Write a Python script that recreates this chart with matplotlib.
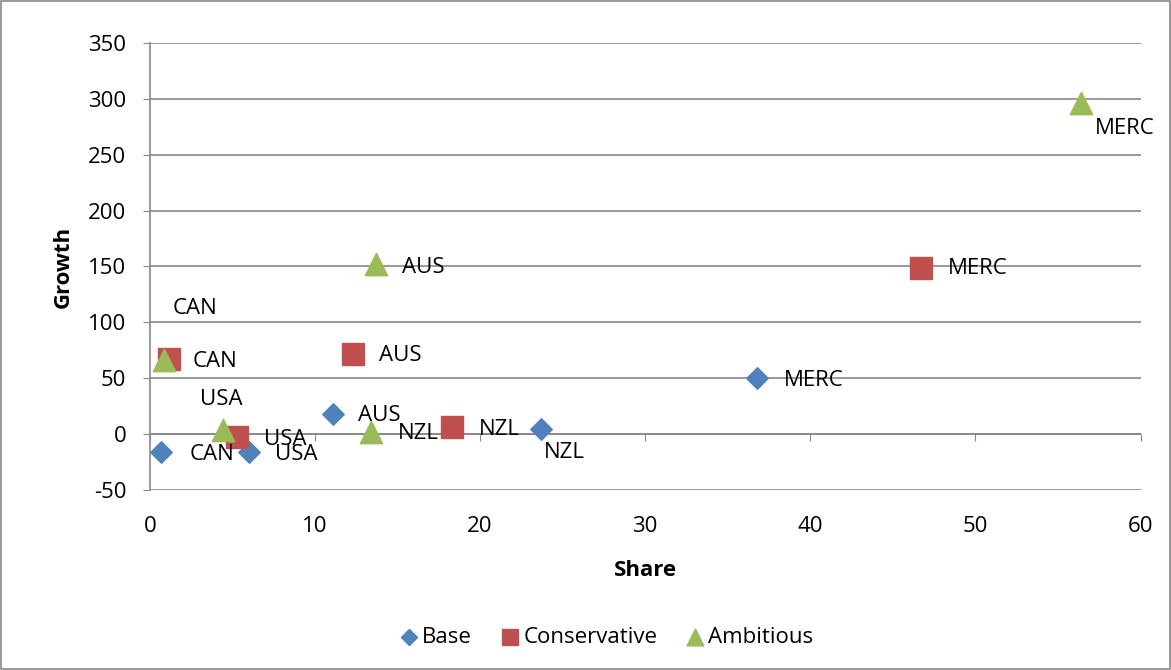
import matplotlib.pyplot as plt
from matplotlib.patches import Rectangle

plt.rcParams['font.family'] = ['Open Sans', 'DejaVu Sans']
plt.rcParams['axes.unicode_minus'] = False

countries = ['CAN', 'USA', 'AUS', 'NZL', 'MERC']

# share (x) and growth (y) for each scenario
base_share = [0.7, 6.0, 11.1, 23.7, 36.8]
base_growth = [-16, -16, 18, 5, 50]
cons_share = [1.15, 5.3, 12.3, 18.3, 46.7]
cons_growth = [67, -3, 72, 6, 149]
amb_share = [0.85, 4.4, 13.7, 13.4, 56.4]
amb_growth = [66, 4, 152, 2, 296]

# label offsets (points) as placed in the original chart
base_off = [(20, -2), (19, -2), (18, -1), (2, -17), (19, -1.5)]
cons_off = [(17, -1.5), (19, -1.5), (19, -1.5), (19, -1.5), (19.5, -1)]
amb_off = [(6.5, 37), (-16, 22), (19, -2), (19, -1), (10, -18)]

FS = 16

fig = plt.figure(figsize=(11.71, 6.70), dpi=100)
ax = fig.add_axes([0.128, 0.2687, 0.846, 0.6671])

grid_col = '#888888'
ax.set_xlim(0, 60)
ax.set_ylim(-50, 350)
ax.set_yticks(range(-50, 351, 50))
ax.set_xticks(range(0, 61, 10))
ax.yaxis.grid(True, color=grid_col, linewidth=1.2)
ax.set_axisbelow(True)
for s in ['top', 'right', 'bottom']:
    ax.spines[s].set_visible(False)
ax.spines['left'].set_color(grid_col)
ax.spines['left'].set_linewidth(1.2)
ax.tick_params(axis='y', length=5, color=grid_col, labelsize=FS, pad=12)
ax.tick_params(axis='x', length=0, labelsize=FS, pad=19)
ax.axhline(0, color=grid_col, linewidth=1.2)

# tick marks along the zero line
sec = ax.secondary_xaxis(0.125)
sec.set_xticks(range(0, 61, 10))
sec.set_xticklabels([])
sec.tick_params(length=5, color=grid_col)
sec.spines['bottom'].set_visible(False)

ax.scatter(base_share, base_growth, marker='D', s=120, color='#4F81BD', label='Base', zorder=3)
ax.scatter(cons_share, cons_growth, marker='s', s=230, color='#C0504D', label='Conservative', zorder=3)
ax.scatter(amb_share, amb_growth, marker='^', s=260, color='#9BBB59', label='Ambitious', zorder=3)

for xs, ys, offs in [(base_share, base_growth, base_off),
                     (cons_share, cons_growth, cons_off),
                     (amb_share, amb_growth, amb_off)]:
    for name, x, y, off in zip(countries, xs, ys, offs):
        ax.annotate(name, (x, y), xytext=off, textcoords='offset points',
                    fontsize=FS, va='center', ha='left', zorder=4)

ax.set_xlabel('Share', fontsize=FS, fontweight='bold', labelpad=16)
ax.set_ylabel('Growth', fontsize=FS, fontweight='bold', labelpad=10)

ax.legend(loc='center', bbox_to_anchor=(0.46, -0.33), ncol=3, frameon=False,
          fontsize=FS, handlelength=1.0, handletextpad=0.1, columnspacing=1.2,
          markerscale=0.75)

fig.patches.append(Rectangle((0.001, 0.001), 0.998, 0.998, transform=fig.transFigure,
                             fill=False, edgecolor='#888888', linewidth=1.2))

fig.savefig('out.png', dpi=100)
